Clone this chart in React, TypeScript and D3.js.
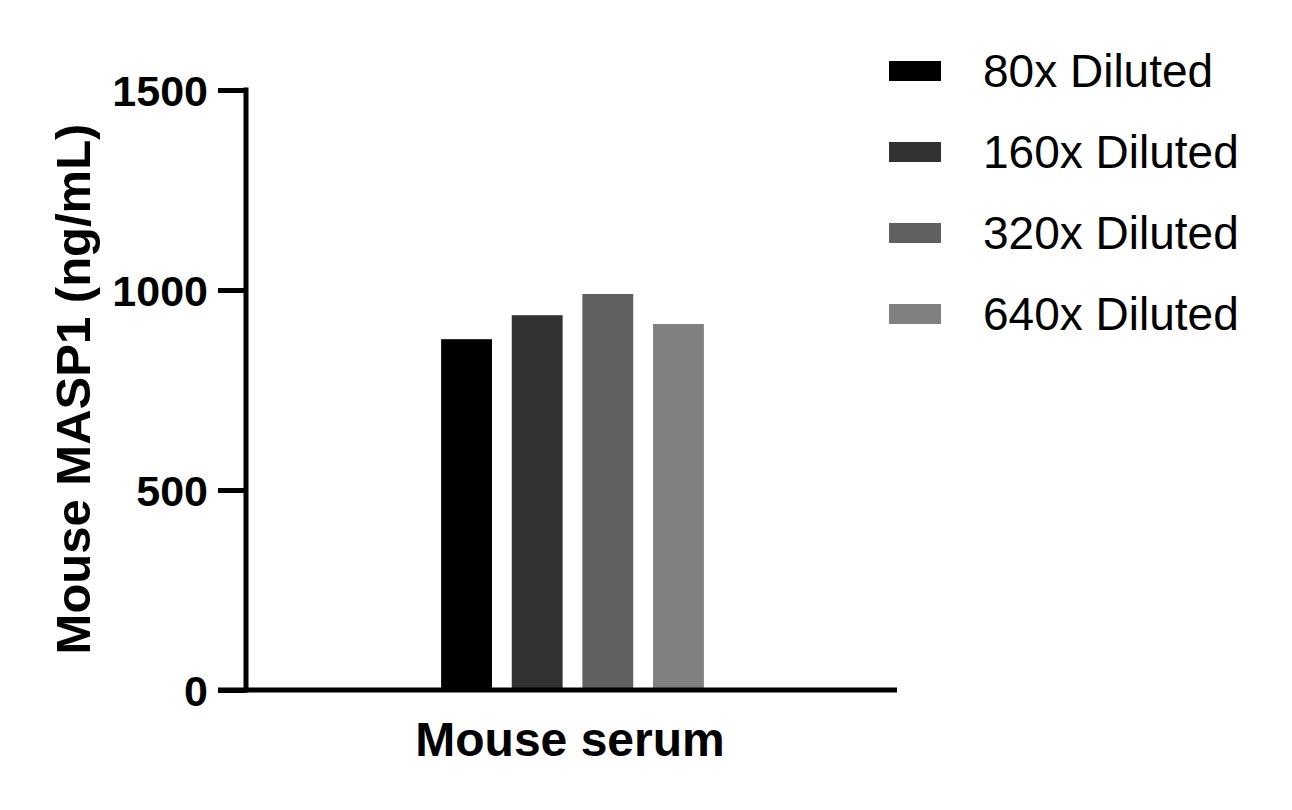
import { useEffect, useRef } from "react";
import * as d3 from "d3";

const categories = ["Mouse serum"];
const series = ["80x Diluted", "160x Diluted", "320x Diluted", "640x Diluted"];
const values = [877, 937, 990, 915];
const yTicks = [0, 500, 1000, 1500];
const colors = ["#000000", "#323232", "#606060", "#808080"];

const FONT = "'Liberation Sans', Arial, Helvetica, sans-serif";

export default function App() {
  const svgRef = useRef<SVGSVGElement>(null);

  useEffect(() => {
    const width = 1292;
    const height = 810;

    const svg = d3.select(svgRef.current).attr("width", width).attr("height", height);
    svg.selectAll("*").remove();

    const y = d3.scaleLinear().domain([0, 1500]).range([690, 90]);
    const x0 = d3
      .scaleBand()
      .domain(categories)
      .range([246, 897])
      .paddingInner(0.566)
      .paddingOuter(0.283);
    const x1 = d3
      .scaleBand()
      .domain(series)
      .range([0, x0.bandwidth()])
      .paddingInner(0.28)
      .paddingOuter(0.14);
    const color = d3.scaleOrdinal<string>().domain(series).range(colors);

    // bars
    svg
      .append("g")
      .selectAll("rect")
      .data(series.map((s, i) => ({ s, v: values[i] })))
      .enter()
      .append("rect")
      .attr("x", (d) => (x0(categories[0]) ?? 0) + 1 + (x1(d.s) ?? 0))
      .attr("y", (d) => y(d.v))
      .attr("width", x1.bandwidth())
      .attr("height", (d) => y(0) - y(d.v))
      .attr("fill", (d) => color(d.s));

    // y axis
    const yAxis = svg
      .append("g")
      .attr("transform", "translate(246,0)")
      .call(d3.axisLeft(y).tickValues(yTicks).tickSize(28).tickPadding(10).tickFormat(d3.format("d")));
    yAxis.select(".domain").remove();
    yAxis.selectAll(".tick line").attr("stroke", "#000").attr("stroke-width", 5);
    yAxis
      .selectAll(".tick text")
      .attr("fill", "#000")
      .attr("font-family", FONT)
      .attr("font-weight", "bold")
      .attr("font-size", 43)
      .attr("dy", "0.36em");

    svg
      .append("line")
      .attr("x1", 246)
      .attr("x2", 246)
      .attr("y1", y(1500) - 2.5)
      .attr("y2", y(0) + 2.5)
      .attr("stroke", "#000")
      .attr("stroke-width", 5);

    // x axis
    svg
      .append("line")
      .attr("x1", 218)
      .attr("x2", 897)
      .attr("y1", y(0))
      .attr("y2", y(0))
      .attr("stroke", "#000")
      .attr("stroke-width", 5);

    svg
      .append("text")
      .attr("x", 570)
      .attr("y", 756)
      .attr("text-anchor", "middle")
      .attr("font-family", FONT)
      .attr("font-weight", "bold")
      .attr("font-size", 48)
      .text(categories[0]);

    svg
      .append("text")
      .attr("transform", "translate(90,389) rotate(-90)")
      .attr("text-anchor", "middle")
      .attr("font-family", FONT)
      .attr("font-weight", "bold")
      .attr("font-size", 49)
      .text("Mouse MASP1 (ng/mL)");

    // legend
    const legend = svg
      .append("g")
      .selectAll("g")
      .data(series)
      .enter()
      .append("g")
      .attr("transform", (d, i) => `translate(889, ${61 + i * 81})`);

    legend
      .append("rect")
      .attr("width", 52)
      .attr("height", 20)
      .attr("fill", (d) => color(d));

    legend
      .append("text")
      .attr("x", 94)
      .attr("y", 26)
      .attr("font-family", FONT)
      .attr("font-size", 46)
      .attr("fill", "#000")
      .text((d) => d);
  }, []);

  return <svg ref={svgRef} style={{ position: "absolute", left: 0, top: 0, background: "#fff" }}></svg>;
}
